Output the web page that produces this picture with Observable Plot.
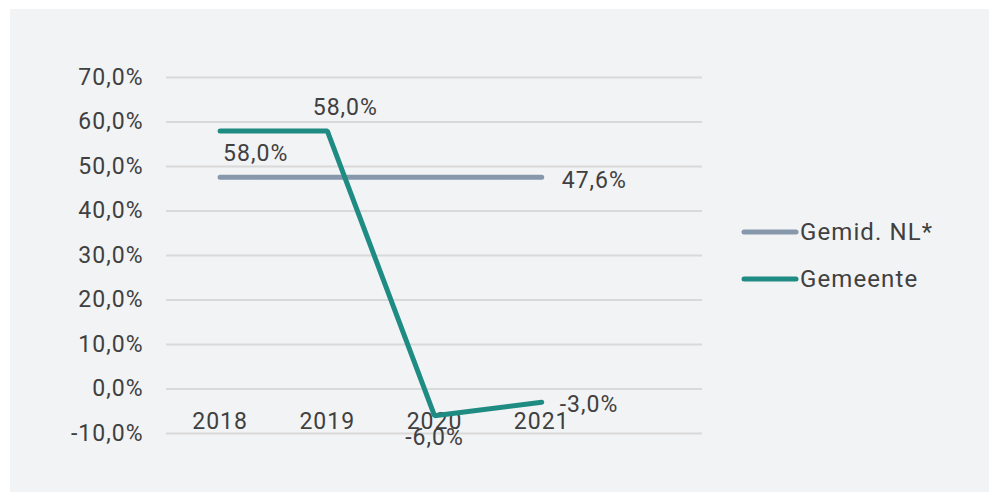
<!DOCTYPE html>
<html><head><meta charset="utf-8">
<script src="https://cdn.jsdelivr.net/npm/d3@7"></script>
<script src="https://cdn.jsdelivr.net/npm/@observablehq/plot@0.6"></script>
<style>
body{margin:0;background:#fff;}
#wrap{position:relative;width:990px;height:493px;font-family:Roboto,"Open Sans",sans-serif;color:#404040;}
#panel{position:absolute;left:10px;top:9px;width:979px;height:483px;background:#f2f3f5;}
#chart{position:absolute;left:0;top:0;}
#chart text{letter-spacing:1px;}
#legend{position:absolute;left:739px;top:212px;font-size:24px;letter-spacing:1.1px;}
.item{display:flex;align-items:center;height:40px;margin-bottom:7px;}
.item svg{margin-right:1px;}
</style>
</head><body>
<div id="wrap"><div id="panel"></div><div id="chart"></div><div id="legend"></div></div>
<script>
const years = [2018, 2019, 2020, 2021];
const gemiddeldNL = [47.6, 47.6, 47.6, 47.6];
const gemeente = [58.0, 58.0, -6.0, -3.0];
const yTicks = [-10, 0, 10, 20, 30, 40, 50, 60, 70];
const seriesNames = ["Gemid. NL*", "Gemeente"];
const seriesColors = ["#8797ac", "#1f8c83"];
// data labels as shown in the chart
const nlLabels = ["58,0%", null, null, "47,6%"];
const gemLabels = [null, "58,0%", "-6,0%", "-3,0%"];

const fmt = d => d.toFixed(1).replace(".", ",") + "%";
const nl = years.map((x, i) => ({x, y: gemiddeldNL[i], label: nlLabels[i]}));
const gem = years.map((x, i) => ({x, y: gemeente[i], label: gemLabels[i]}));
const fs = 23;
const txt = {fill: "#404040", fontSize: fs, fontFamily: "Roboto, sans-serif"};

const plot = Plot.plot({
  width: 990, height: 493,
  marginLeft: 166, marginRight: 288, marginTop: 77, marginBottom: 60,
  style: {background: "transparent", fontFamily: "Roboto, sans-serif"},
  x: {domain: [2017.5, 2022.5], axis: null},
  y: {domain: [-10, 70], axis: null},
  marks: [
    Plot.gridY(yTicks, {stroke: "#d9d9d9", strokeOpacity: 1, strokeWidth: 2}),
    Plot.axisY(yTicks, {tickSize: 0, tickPadding: 23, tickFormat: fmt, fontSize: fs, fill: "#404040", label: null}),
    Plot.text(years, {x: d => d, y: () => -10, dy: -12, text: d => String(d), ...txt}),
    Plot.line(nl, {x: "x", y: "y", stroke: seriesColors[0], strokeWidth: 5, strokeLinecap: "round", strokeLinejoin: "round"}),
    Plot.line(gem, {x: "x", y: "y", stroke: seriesColors[1], strokeWidth: 5, strokeLinecap: "round", strokeLinejoin: "miter"}),
    Plot.text(nl.filter((d, i) => i === 0), {x: "x", y: "y", text: "label", dx: 3, dy: -24, textAnchor: "start", ...txt}),
    Plot.text(nl.filter((d, i) => i === 3), {x: "x", y: "y", text: "label", dx: 20, dy: 3, textAnchor: "start", ...txt}),
    Plot.text(gem.filter((d, i) => i === 1), {x: "x", y: "y", text: "label", dx: 18, dy: -23, ...txt}),
    Plot.text(gem.filter((d, i) => i === 2), {x: "x", y: "y", text: "label", dy: 22, ...txt}),
    Plot.text(gem.filter((d, i) => i === 3), {x: "x", y: "y", text: "label", dx: 18, dy: 2, textAnchor: "start", ...txt})
  ]
});
document.getElementById("chart").appendChild(plot);

const legend = document.getElementById("legend");
seriesNames.forEach((name, i) => {
  const row = document.createElement("div");
  row.className = "item";
  row.innerHTML = `<svg width="60" height="10"><line x1="5" y1="5" x2="57" y2="5" stroke="${seriesColors[i]}" stroke-width="5" stroke-linecap="round"/></svg><span>${name}</span>`;
  legend.appendChild(row);
});
</script>
</body></html>
